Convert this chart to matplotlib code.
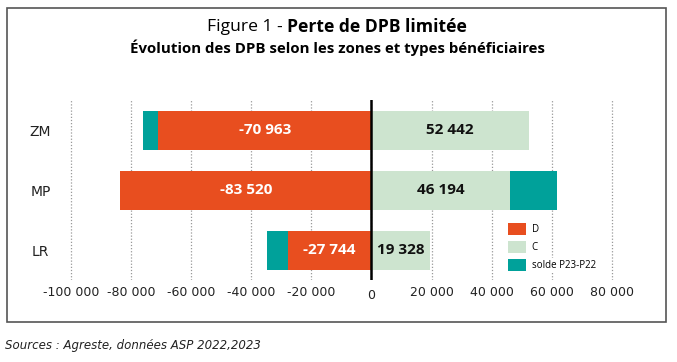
import matplotlib
matplotlib.use("Agg")
import matplotlib.pyplot as plt
from matplotlib.patches import Rectangle
from matplotlib.ticker import FuncFormatter
import matplotlib.transforms as mtransforms

# --- données ---
zones = ["ZM", "MP", "LR"]
d_vals = [-70963, -83520, -27744]
c_vals = [52442, 46194, 19328]
solde_vals = [-5100, 15600, -7000]
xticks = [-100000, -80000, -60000, -40000, -20000, 0, 20000, 40000, 60000, 80000]

col_d = "#E84E1F"
col_c = "#CDE4CF"
col_s = "#00A19A"

W, H = 677, 362
fig = plt.figure(figsize=(W / 100, H / 100), dpi=100)

# axes placées en pixels
x0, x1 = 70.7 - 3.0, 612.0 + 3.0
y_top, y_bot = 100, 280
ax = fig.add_axes([x0 / W, (H - y_bot) / H, (x1 - x0) / W, (y_bot - y_top) / H])

y = range(len(zones))
bh = 0.65
bd = ax.barh(y, d_vals, height=bh, color=col_d, zorder=3, label="D")
bc = ax.barh(y, c_vals, height=bh, color=col_c, zorder=3, label="C")
# le solde s'empile à gauche de D s'il est négatif, à droite de C sinon
lefts = [d if s < 0 else c for d, c, s in zip(d_vals, c_vals, solde_vals)]
bs = ax.barh(y, solde_vals, left=lefts, height=bh, color=col_s, zorder=3,
             label="solde P23-P22")

fmt = lambda v: f"{v:,.0f}".replace(",", " ")
ax.bar_label(bd, labels=[fmt(v) for v in d_vals], label_type="center",
             color="white", fontweight="bold", fontsize=11, family="Open Sans")
ax.bar_label(bc, labels=[fmt(v) for v in c_vals], label_type="center",
             color="#111111", fontweight="bold", fontsize=11, family="Open Sans")

ax.set_xlim(-101000, 81000)
ax.set_ylim(2.5, -0.5)
ax.set_xticks(xticks)
ax.xaxis.set_major_formatter(FuncFormatter(lambda v, p: fmt(v)))
ax.grid(axis="x", color="#999999", linestyle=(0, (1, 1.5)), linewidth=0.9, zorder=0)
ax.axvline(0, color="black", linewidth=1.8, zorder=4)
for s in ax.spines.values():
    s.set_visible(False)
ax.tick_params(axis="x", length=0, pad=4, labelsize=9, labelcolor="#222222")
ax.tick_params(axis="y", length=0, pad=19.5, labelsize=10, labelcolor="#222222")
ax.set_yticks(list(y))
ax.set_yticklabels(zones)
for t in ax.get_yticklabels():
    t.set_horizontalalignment("center")
for t in ax.get_xticklabels():
    if t.get_text() == "0":
        t.set_transform(t.get_transform() + mtransforms.ScaledTranslation(0, -2.5 / 72, fig.dpi_scale_trans))

leg = ax.legend(handles=[bd, bc, bs], loc="upper left", bbox_to_anchor=(500 / W, 1 - 215 / H),
                bbox_transform=fig.transFigure, frameon=False,
                prop={"family": "Open Sans", "size": 7}, handlelength=1.85,
                handleheight=1.5, labelspacing=0.62, handletextpad=0.6, borderpad=0.3)
for t in leg.get_texts():
    t.set_bbox(dict(facecolor="white", edgecolor="none", pad=1.5))

# cadre autour de la figure
fig.patches.append(Rectangle((6.7 / W, 1 - 321.7 / H), (666 - 6.7) / W, (321.7 - 7.7) / H,
                             transform=fig.transFigure, fill=False,
                             edgecolor="#555555", linewidth=1.2))

# titre en deux morceaux (normal + gras), centré
r = fig.canvas.get_renderer()
t1 = fig.text(0, 1 - 27 / H, "Figure 1 - ", fontsize=12.6, family="Open Sans", va="center")
t2 = fig.text(0, 1 - 27 / H, "Perte de DPB limitée", fontsize=12.6, family="Open Sans",
              fontweight="bold", va="center")
w1 = t1.get_window_extent(r).width
w2 = t2.get_window_extent(r).width
xs = 337 - (w1 + w2) / 2
t1.set_x(xs / W)
t2.set_x((xs + w1) / W)

fig.text(337 / W, 1 - 48 / H, "Évolution des DPB selon les zones et types bénéficiaires",
         fontsize=10.8, family="Open Sans", fontweight="bold", ha="center", va="center")

fig.text(5 / W, 1 - 345 / H, "Sources : Agreste, données ASP 2022,2023",
         fontsize=8.5, style="italic", color="#222222", va="center")

fig.savefig("out.png", dpi=100)
